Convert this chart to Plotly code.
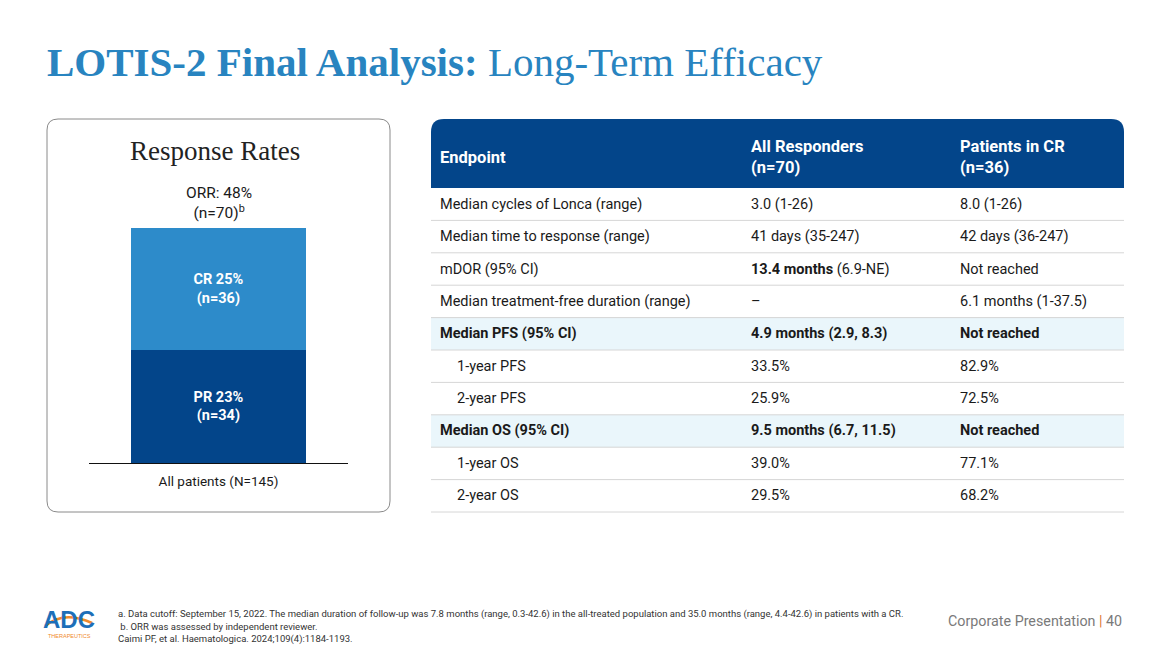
import plotly.graph_objects as go

W, H = 1170, 657

# ---- response rates (left panel) ----
resp_names = ["PR", "CR"]
resp_pct = [23, 25]
resp_n = [34, 36]
resp_colors = ["#03458a", "#2d8bca"]
orr_pct = 48
orr_n = 70
bar_category = ["All patients (N=145)"]

# ---- efficacy table ----
table_header = ["Endpoint", "All Responders<br>(n=70)", "Patients in CR<br>(n=36)"]
endpoints = [
    "Median cycles of Lonca (range)",
    "Median time to response (range)",
    "mDOR (95% CI)",
    "Median treatment-free duration (range)",
    "<b>Median PFS (95% CI)</b>",
    "1-year PFS",
    "2-year PFS",
    "<b>Median OS (95% CI)</b>",
    "1-year OS",
    "2-year OS",
]
all_responders = [
    "3.0 (1-26)",
    "41 days (35-247)",
    "<b>13.4 months</b> (6.9-NE)",
    "–",
    "<b>4.9 months (2.9, 8.3)</b>",
    "33.5%",
    "25.9%",
    "<b>9.5 months (6.7, 11.5)</b>",
    "39.0%",
    "29.5%",
]
patients_cr = [
    "8.0 (1-26)",
    "42 days (36-247)",
    "Not reached",
    "6.1 months (1-37.5)",
    "<b>Not reached</b>",
    "82.9%",
    "72.5%",
    "<b>Not reached</b>",
    "77.1%",
    "68.2%",
]
indented = [False, False, False, False, False, True, True, False, True, True]
highlighted = [False, False, False, False, True, False, False, True, False, False]

footnotes = [
    "a. Data cutoff: September 15, 2022. The median duration of follow-up was 7.8 months (range, 0.3-42.6) in the all-treated population and 35.0 months (range, 4.4-42.6) in patients with a CR.",
    " b. ORR was assessed by independent reviewer.",
    "Caimi PF, et al. Haematologica. 2024;109(4):1184-1193.",
]

SANS = "Roboto, Arial, sans-serif"
SERIF = "Liberation Serif, Times New Roman, serif"
NAVY = "#03458a"
TITLE_BLUE = "#2884c0"


def px(x):
    return x / W


def py(y):
    return 1 - y / H


def rounded_path(x0, y0, x1, y1, r, top_only=False):
    pts = []
    pts.append(f"M {px(x0 + r)} {py(y0)}")
    pts.append(f"L {px(x1 - r)} {py(y0)}")
    pts.append(f"Q {px(x1)} {py(y0)} {px(x1)} {py(y0 + r)}")
    if top_only:
        pts.append(f"L {px(x1)} {py(y1)}")
        pts.append(f"L {px(x0)} {py(y1)}")
    else:
        pts.append(f"L {px(x1)} {py(y1 - r)}")
        pts.append(f"Q {px(x1)} {py(y1)} {px(x1 - r)} {py(y1)}")
        pts.append(f"L {px(x0 + r)} {py(y1)}")
        pts.append(f"Q {px(x0)} {py(y1)} {px(x0)} {py(y1 - r)}")
    pts.append(f"L {px(x0)} {py(y0 + r)}")
    pts.append(f"Q {px(x0)} {py(y0)} {px(x0 + r)} {py(y0)}")
    pts.append("Z")
    return " ".join(pts)


fig = go.Figure()

# stacked response bar
for name, pct, n, color in zip(resp_names, resp_pct, resp_n, resp_colors):
    fig.add_bar(
        x=bar_category, y=[pct], name=name,
        marker=dict(color=color, line=dict(width=0)),
        width=0.676,
        text=[f"<b>{name} {pct}%<br>(n={n})</b>"],
        textposition="inside", insidetextanchor="middle", textangle=0,
        textfont=dict(color="white", size=14.5, family=SANS),
        hoverinfo="skip",
    )

fig.add_annotation(
    x=bar_category[0], y=orr_pct, xref="x", yref="y",
    text=f"ORR: {orr_pct}%<br>(n={orr_n})<sup>b</sup>",
    showarrow=False, xanchor="center", yanchor="bottom", yshift=4,
    font=dict(size=15.5, color="#1a1a1a", family=SANS),
)

shapes = []
ann = []

# left panel frame
shapes.append(dict(type="path", xref="paper", yref="paper",
                   path=rounded_path(47, 119, 390, 512, 11),
                   line=dict(color="#8a8a8a", width=1), fillcolor="rgba(0,0,0,0)", layer="below"))
ann.append(dict(x=px(215), y=py(151), xanchor="center", text="Response Rates",
                font=dict(family=SERIF, size=27, color="#222222")))

# table header
TX0, TX1 = 431, 1124
HEAD_TOP, HEAD_BOT = 119, 188
ROW_H = (512 - HEAD_BOT) / len(endpoints)
COL_X = [438, 749, 958]

shapes.append(dict(type="path", xref="paper", yref="paper",
                   path=rounded_path(TX0, HEAD_TOP, TX1, HEAD_BOT, 13, top_only=True),
                   line=dict(width=0), fillcolor=NAVY))
for cx, label in zip(COL_X, table_header):
    ann.append(dict(x=px(cx), y=py(157), xanchor="left", align="left",
                    text=f"<b>{label}</b>",
                    font=dict(family=SANS, size=16.5, color="white")))

for i, (ep, ar, cr) in enumerate(zip(endpoints, all_responders, patients_cr)):
    top = HEAD_BOT + i * ROW_H
    bot = top + ROW_H
    yc = (top + bot) / 2
    if highlighted[i]:
        shapes.append(dict(type="rect", xref="paper", yref="paper",
                           x0=px(TX0), x1=px(TX1), y0=py(bot), y1=py(top),
                           fillcolor="#eaf6fb", line=dict(width=0), layer="below"))
    shapes.append(dict(type="line", xref="paper", yref="paper",
                       x0=px(TX0), x1=px(TX1), y0=py(bot), y1=py(bot),
                       line=dict(color="#d6d6d6", width=1)))
    ep_x = COL_X[0] + (17 if indented[i] else 0)
    for cx, txt in zip([ep_x, COL_X[1], COL_X[2]], [ep, ar, cr]):
        ann.append(dict(x=px(cx), y=py(yc), xanchor="left", align="left", text=txt,
                        font=dict(family=SANS, size=14.5, color="#1a1a1a")))

# title
ann.append(dict(x=px(45), y=py(62), xanchor="left",
                text="<b>LOTIS-2 Final Analysis:</b> Long-Term Efficacy",
                font=dict(family=SERIF, size=41, color=TITLE_BLUE)))

# footnotes
for k, line in enumerate(footnotes):
    ann.append(dict(x=px(116), y=py(614 + k * 12.5), xanchor="left", text=line,
                    font=dict(family=SANS, size=9.5, color="#333333")))

ann.append(dict(x=px(1124), y=py(621), xanchor="right",
                text="Corporate Presentation <span style='color:#e07b39'>|</span> 40",
                font=dict(family=SANS, size=14.3, color="#7a7a7a")))

# logo
ann.append(dict(x=px(69), y=py(619), xanchor="center", text="<b>ADC</b>",
                font=dict(family="Liberation Sans, Arial", size=24, color="#1d6fb8")))
shapes.append(dict(type="path", xref="paper", yref="paper",
                   path=f"M {px(45)} {py(626)} Q {px(64)} {py(610)} {px(92)} {py(623)}",
                   line=dict(color="#f08a2c", width=2.5)))
ann.append(dict(x=px(69), y=py(636), xanchor="center", text="THERAPEUTICS",
                font=dict(family="Liberation Sans, Arial", size=5.5, color="#f08a2c")))

for a in ann:
    a.setdefault("xref", "paper")
    a.setdefault("yref", "paper")
    a.setdefault("yanchor", "middle")
    a.setdefault("showarrow", False)
    fig.add_annotation(**a)

fig.update_layout(
    width=W, height=H,
    margin=dict(l=0, r=0, t=0, b=0),
    paper_bgcolor="white", plot_bgcolor="white",
    barmode="stack", bargap=0, showlegend=False,
    shapes=shapes,
    xaxis=dict(domain=[px(89), px(348)], showline=True, linecolor="#111111", linewidth=1,
               ticks="", showgrid=False, zeroline=False, fixedrange=True, ticklabelstandoff=6,
               tickfont=dict(family=SANS, size=13.5, color="#1a1a1a")),
    yaxis=dict(domain=[py(463), py(169)], range=[0, 60], visible=False, fixedrange=True),
)

fig.write_html(
    "out.html",
    config={"displayModeBar": False},
    post_script="document.body.style.margin='0';document.body.style.overflow='hidden';",
)
